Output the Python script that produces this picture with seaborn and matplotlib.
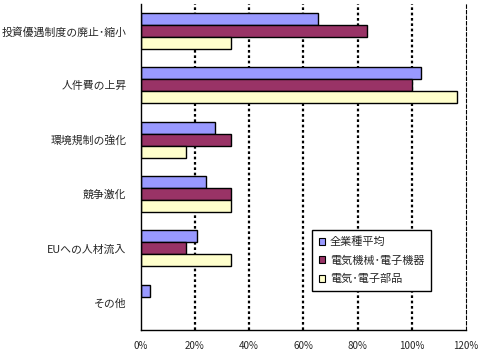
import matplotlib
matplotlib.use("Agg")
import matplotlib.pyplot as plt
import seaborn as sns
import pandas as pd
import numpy as np

categories = ["投資優遇制度の廃止･縮小", "人件費の上昇", "環境規制の強化", "競争激化", "EUへの人材流入", "その他"]
series_names = ["全業種平均", "電気機械･電子機器", "電気･電子部品"]
all_industry = [65.5, 103.4, 27.6, 24.1, 20.7, 3.4]
electrical_machinery = [83.3, 100.0, 33.3, 33.3, 16.7, 0.0]
electronic_parts = [33.3, 116.7, 16.7, 33.3, 33.3, 0.0]
x_ticks = [0, 20, 40, 60, 80, 100, 120]
x_ticklabels = ["0%", "20%", "40%", "60%", "80%", "100%", "120%"]
colors = ["#9999FF", "#993366", "#FFFFCC"]

rows = []
for name, vals in zip(series_names, [all_industry, electrical_machinery, electronic_parts]):
    for c, v in zip(categories, vals):
        rows.append({"cat": c, "series": name, "val": v})
df = pd.DataFrame(rows)

sns.set_style("white")
plt.rcParams['font.family'] = ['Noto Sans CJK JP', 'DejaVu Sans']

fig = plt.figure(figsize=(4.83, 3.54), dpi=100)
ax = fig.add_axes([0.291, 0.068, 0.674, 0.921])

sns.barplot(data=df, y="cat", x="val", hue="series", order=categories,
            hue_order=series_names, palette=colors, orient="h", width=0.66,
            saturation=1, edgecolor="black", linewidth=1.0, ax=ax, legend=True)

# zero-length bars should not show an outline
for p in ax.patches:
    if hasattr(p, "get_width") and p.get_width() == 0:
        p.set_linewidth(0)

ax.set_xlim(0, 120)
ax.set_ylim(5.5, -0.5)
ax.set_xticks(x_ticks)
ax.set_xticklabels(x_ticklabels, fontsize=7)
ax.set_xlabel("")
ax.set_ylabel("")
ax.tick_params(axis="x", length=0, pad=8)
ax.tick_params(axis="y", which="major", length=0, labelsize=7.8, pad=10)
ax.set_yticks(np.arange(-0.5, 6.0, 1.0), minor=True)
ax.tick_params(axis="y", which="minor", length=3, width=1, color="black", direction="out")

for xv in x_ticks[1:-1]:
    ax.axvline(xv, color="black", linestyle=(0, (1.2, 1.2)), linewidth=1.6, zorder=0)

ax.spines["top"].set_visible(False)
ax.spines["right"].set_linestyle((0, (3, 2)))
ax.spines["right"].set_linewidth(0.8)
ax.spines["left"].set_linewidth(1.0)
ax.spines["bottom"].set_linewidth(1.0)
for s in ["left", "bottom", "right"]:
    ax.spines[s].set_color("black")

leg = ax.legend(loc="upper left", bbox_to_anchor=(0.527, 0.307), fontsize=8,
                frameon=True, fancybox=False, edgecolor="black", framealpha=1,
                handlelength=0.6, handleheight=0.6, handletextpad=0.4,
                labelspacing=0.75, borderpad=0.6, borderaxespad=0)
leg.get_frame().set_linewidth(1.0)
for h in leg.legend_handles:
    h.set_linewidth(0.8)
    h.set_edgecolor("black")

fig.savefig("out.png", dpi=100)
